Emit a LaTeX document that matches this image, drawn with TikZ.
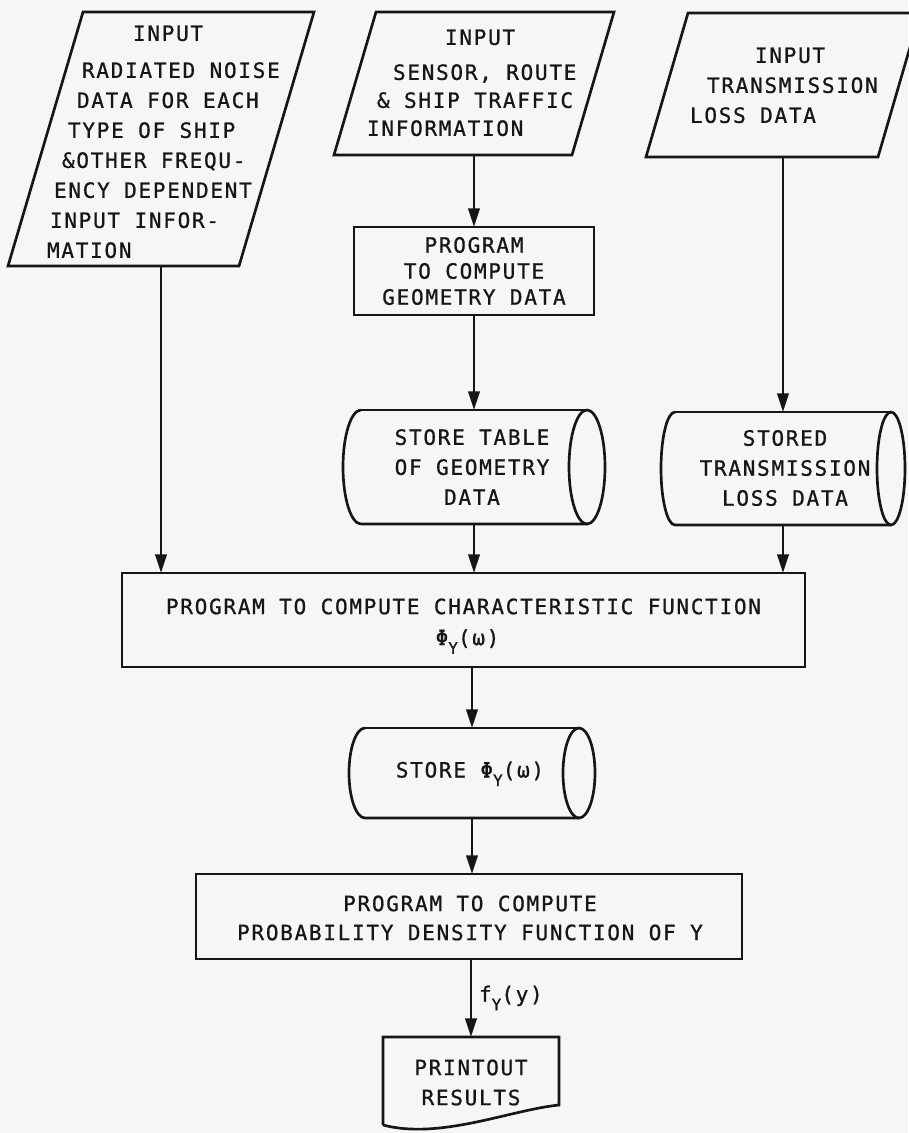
\documentclass[tikz,border=0pt]{standalone}
\usepackage{fontspec}
\usetikzlibrary{calc,arrows.meta}
\newfontfamily\lett[LetterSpace=8,FakeBold=0.8]{DejaVu Sans Mono}
\definecolor{paper}{RGB}{246,246,244}
\definecolor{ink}{RGB}{22,22,22}
% slanted input box drawn over a bounding node: #1 node, #2 horizontal skew
\newcommand\paral[2]{\draw (#1.south west) -- ($(#1.north west)+(#2,0)$) -- (#1.north east) -- ($(#1.south east)+(-#2,0)$) -- cycle;}
% horizontal storage drum: #1 node, #2 end x-radius, #3 end y-radius
\newcommand\drum[3]{%
  \draw ($(#1.north west)+(#2,0)$) arc[start angle=90,end angle=270,x radius=#2,y radius=#3] -- ($(#1.south east)+(-#2,0)$);
  \draw ($(#1.north west)+(#2,0)$) -- ($(#1.north east)+(-#2,0)$);
  \draw ($(#1.east)+(-#2,0)$) ellipse[x radius=#2,y radius=#3];}
% lowered subscript letter
\newcommand\lsub[1]{\raisebox{-6.5pt}{\fontsize{12}{12}\selectfont #1}}
\begin{document}
\begin{tikzpicture}[x=0.75pt,y=0.75pt,line width=2pt,color=ink,
  area/.style 2 args={inner sep=0pt,outer sep=0pt,minimum width=#1*0.75pt,minimum height=#2*0.75pt},
  txt/.style={inner sep=0pt,outer sep=0pt,font=\lett\fontsize{15.8}{22.5}\selectfont},
  arr/.style={-{Triangle[length=14pt,width=8.5pt]}}]
\path[fill=paper,use as bounding box] (0,0) rectangle (908,-1133);

% outline holders
\node[area={306}{254}] (in1) at (161,-139) {};
\node[area={280}{143}] (in2) at (474,-83.5) {};
\node[area={274}{144}] (in3) at (783,-85) {};
\node[area={240}{88}] (geo) at (474,-271) {};
\node[area={262}{114}] (tab) at (474,-467) {};
\node[area={244}{113}] (tl) at (783,-468.5) {};
\node[area={683}{94}] (cf) at (463.5,-620) {};
\node[area={246}{90}] (sphi) at (472,-773) {};
\node[area={546}{85}] (pdf) at (469,-916.5) {};
\node[area={176}{88}] (prt) at (471,-1081) {};

% outlines
\paral{in1}{75}
\paral{in2}{42}
\paral{in3}{42}
\draw (geo.south west) rectangle (geo.north east);
\drum{tab}{18}{57}
\drum{tl}{14}{56.5}
\draw (cf.south west) rectangle (cf.north east);
\drum{sphi}{16}{45}
\draw (pdf.south west) rectangle (pdf.north east);
\draw (prt.south west) -- (prt.north west) -- (prt.north east) -- ($(prt.north east)+(0,-68)$)
  .. controls ($(prt.north east)+(-49,-73)$) and ($(prt.south west)+(57,-15)$) .. (prt.south west);

% texts
\node[txt,anchor=north west,align=left] (t1) at (47,-25.5)
  {\hspace*{64.5pt}INPUT\\[5.25pt]
   \hspace*{26.25pt}RADIATED NOISE\\
   \hspace*{22.5pt}DATA FOR EACH\\
   \hspace*{15.75pt}TYPE OF SHIP\\
   \hspace*{11.25pt}\&OTHER FREQU-\\
   \hspace*{5.25pt}ENCY DEPENDENT\\
   \hspace*{2.25pt}INPUT INFOR-\\
   MATION};
\node[txt,anchor=north west,align=left,font=\lett\fontsize{15.8}{21}\selectfont] (t2) at (367,-29.5)
  {\hspace*{58.5pt}INPUT\\[5.25pt]
   \hspace*{19.5pt}SENSOR, ROUTE\\
   \hspace*{7.5pt}\& SHIP TRAFFIC\\
   INFORMATION};
\node[txt,anchor=north west,align=left] (t3) at (690,-47.5)
  {\hspace*{48.75pt}INPUT\\
   \hspace*{12.75pt}TRANSMISSION\\
   LOSS DATA};
\node[txt,align=center,font=\lett\fontsize{15.8}{19.5}\selectfont] (tgeo) at (geo) {PROGRAM\\TO COMPUTE\\GEOMETRY DATA};
\node[txt,align=center] (ttab) at (472,-467) {STORE TABLE\\OF GEOMETRY\\DATA};
\node[txt,align=center] (ttl) at (785,-468) {STORED\\TRANSMISSION\\LOSS DATA};
\node[txt,anchor=north,align=center,font=\lett\fontsize{15.8}{23.25}\selectfont] (tcf) at (463.5,-598.5)
  {PROGRAM TO COMPUTE CHARACTERISTIC FUNCTION\\
   \hspace*{6pt}Φ\lsub{Y}(ω)};
\node[txt,anchor=base] (tsphi) at (470,-777.5) {STORE Φ\lsub{Y}(ω)};
\node[txt,anchor=north,align=center,font=\lett\fontsize{15.8}{21.75}\selectfont] (tpdf) at (470,-895.5)
  {PROGRAM TO COMPUTE\\PROBABILITY DENSITY FUNCTION OF Y};
\node[txt,anchor=north,align=center] (tprt) at (471,-1059.5) {PRINTOUT\\RESULTS};

% flow
\draw[arr] (in1.south) -- (in1.south |- cf.north);
\draw[arr] (in2.south) -- (geo.north);
\draw[arr] (geo.south) -- (tab.north);
\draw[arr] (tab.south) -- (tab.south |- cf.north);
\draw[arr] (in3.south) -- (in3.south |- tl.north);
\draw[arr] (tl.south) -- (tl.south |- cf.north);
\draw[arr] (cf.south -| sphi.north) -- (sphi.north);
\draw[arr] (sphi.south) -- (sphi.south |- pdf.north);
\draw[arr] (pdf.south -| prt.north) -- (prt.north)
  node[txt,midway,anchor=west,xshift=6pt] (fy) {f\lsub{Y}(y)};
\end{tikzpicture}
\end{document}
